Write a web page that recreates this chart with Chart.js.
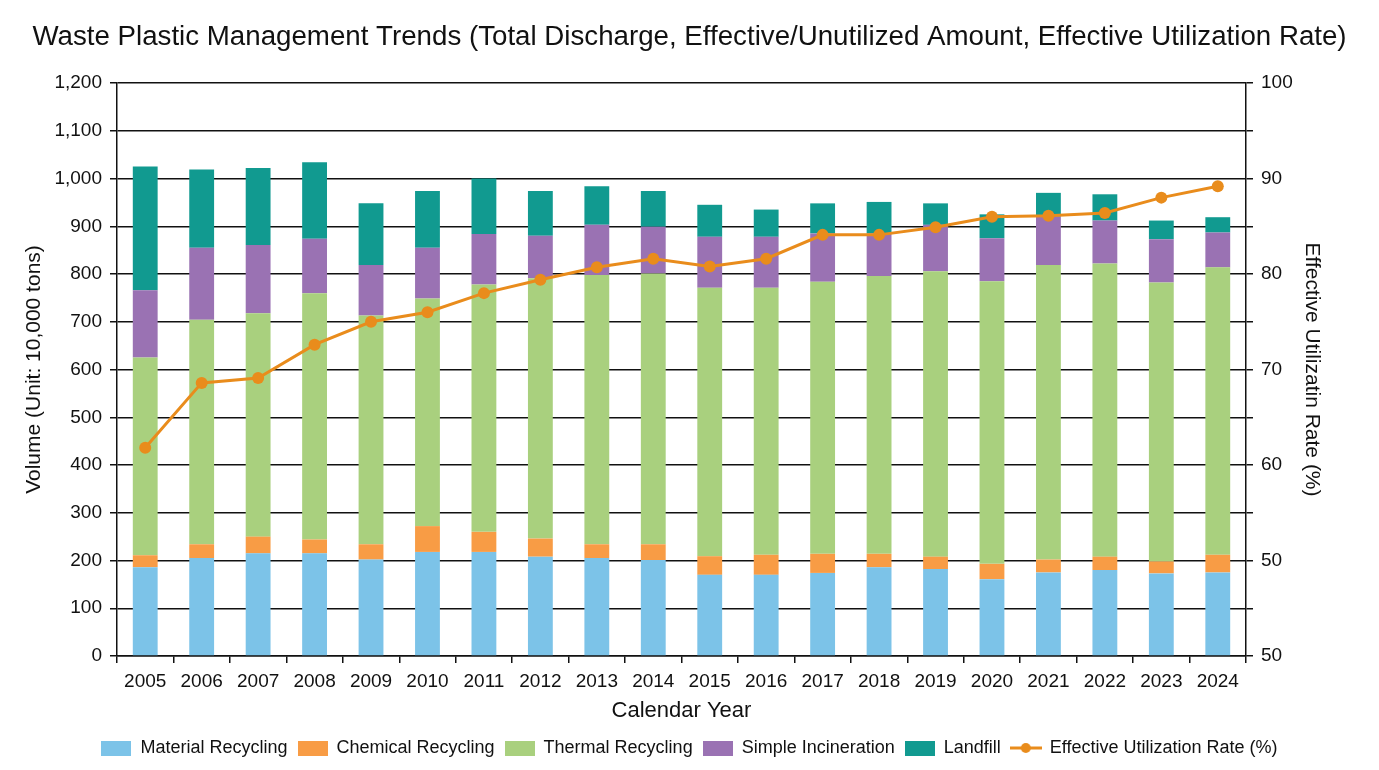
<!DOCTYPE html>
<html>
<head>
<meta charset="utf-8">
<script src="https://cdn.jsdelivr.net/npm/chart.js@4.4.1/dist/chart.umd.min.js"></script>
<style>
html,body{margin:0;padding:0;background:#fff;}
#wrap{width:1379px;height:770px;position:relative;}
</style>
</head>
<body>
<div id="wrap"><canvas id="c" width="1379" height="770"></canvas></div>
<script>
const years = ['2005','2006','2007','2008','2009','2010','2011','2012','2013','2014','2015','2016','2017','2018','2019','2020','2021','2022','2023','2024'];
const materialRecycling = [186,205,215,215,202,218,218,208,205,201,170,170,174,186,182,161,175,180,173,175];
const chemicalRecycling = [25,29,35,29,32,54,42,38,29,33,39,42,40,28,26,32,27,28,25,37];
const thermalRecycling = [414,470,468,516,479,477,518,545,564,567,562,559,570,582,598,592,617,614,584,602];
const simpleIncineration = [141,151,143,114,106,106,106,89,105,98,107,107,101,89,97,90,101,90,91,73];
const landfill = [259,164,161,160,129,119,116,94,81,75,67,57,63,66,45,50,50,55,39,32];
const utilizationRate = [61.8,68.6,69.1,72.6,75.0,76.0,78.0,79.4,80.7,81.6,80.8,81.6,84.1,84.1,84.9,86.0,86.1,86.4,88.0,89.2];
const leftTicks = [0,100,200,300,400,500,600,700,800,900,1000,1100,1200];
const rightTickLabels = {100:'100',90:'90',80:'80',70:'70',60:'60',50:'50',40:'50'};

const colors = {
  material:'#7cc3e8', chemical:'#f89c45', thermal:'#a9d07e', incin:'#9a72b3', landfill:'#119a90', line:'#e98c1c'
};
const FONT = "'Liberation Sans', Arial, sans-serif";

function rectIcon(color){
  const c=document.createElement('canvas'); c.width=30; c.height=15;
  const x=c.getContext('2d'); x.fillStyle=color; x.fillRect(0,0,30,15); return c;
}
function lineIcon(color){
  const c=document.createElement('canvas'); c.width=32; c.height=14;
  const x=c.getContext('2d'); x.strokeStyle=color; x.lineWidth=3;
  x.beginPath(); x.moveTo(0,7); x.lineTo(32,7); x.stroke();
  x.fillStyle=color; x.beginPath(); x.arc(16,7,5,0,Math.PI*2); x.fill(); return c;
}

const barCommon = {type:'bar', yAxisID:'y', stack:'s', barPercentage:0.44, categoryPercentage:1, borderWidth:0};
const data = {
  labels: years,
  datasets: [
    {...barCommon, label:'Material Recycling', data:materialRecycling, backgroundColor:colors.material, order:2, icon:rectIcon(colors.material)},
    {...barCommon, label:'Chemical Recycling', data:chemicalRecycling, backgroundColor:colors.chemical, order:2, icon:rectIcon(colors.chemical)},
    {...barCommon, label:'Thermal Recycling', data:thermalRecycling, backgroundColor:colors.thermal, order:2, icon:rectIcon(colors.thermal)},
    {...barCommon, label:'Simple Incineration', data:simpleIncineration, backgroundColor:colors.incin, order:2, icon:rectIcon(colors.incin)},
    {...barCommon, label:'Landfill', data:landfill, backgroundColor:colors.landfill, order:2, icon:rectIcon(colors.landfill)},
    {type:'line', label:'Effective Utilization Rate (%)', data:utilizationRate, yAxisID:'y1', borderColor:colors.line, backgroundColor:colors.line,
     borderWidth:3, pointRadius:6, pointHoverRadius:6, pointBackgroundColor:colors.line, pointBorderWidth:0, tension:0, order:1, icon:lineIcon(colors.line)}
  ]
};

new Chart(document.getElementById('c'), {
  type:'bar',
  data,
  options:{
    responsive:false, animation:false,
    layout:{padding:{left:0,right:0,top:0,bottom:3}},
    plugins:{
      title:{display:true, text:'Waste Plastic Management Trends (Total Discharge, Effective/Unutilized Amount, Effective Utilization Rate)',
        color:'#111', font:{family:FONT, size:27.7, weight:'normal', lineHeight:1.2}, padding:{top:21,bottom:28.8}},
      legend:{position:'bottom', labels:{
        usePointStyle:true, pointStyleWidth:30, boxHeight:15, padding:10, color:'#111',
        font:{family:FONT, size:18},
        generateLabels(chart){
          return chart.data.datasets.map((ds,i)=>({text:ds.label, pointStyle:ds.icon, fillStyle:ds.backgroundColor, strokeStyle:ds.backgroundColor, lineWidth:0, datasetIndex:i, hidden:false, fontColor:'#111'}));
        }
      }},
      tooltip:{enabled:false}
    },
    scales:{
      x:{
        stacked:true,
        grid:{display:true, drawOnChartArea:false, drawTicks:true, tickLength:7, color:'#111', lineWidth:1.5, offset:true},
        border:{display:true, color:'#111', width:1.5},
        ticks:{color:'#111', font:{family:FONT, size:19}, padding:7, maxRotation:0, autoSkip:false},
        title:{display:true, text:'Calendar Year', color:'#111', font:{family:FONT, size:22}, padding:{top:0,bottom:5}},
        afterFit(s){ s.height = 73; }
      },
      y:{
        stacked:true, position:'left', min:0, max:1200,
        afterBuildTicks(s){ s.ticks = leftTicks.map(v=>({value:v})); },
        grid:{color:'#111', lineWidth:1.5, tickLength:7, drawTicks:true},
        border:{display:true, color:'#111', width:1.5},
        ticks:{color:'#111', font:{family:FONT, size:19}, padding:8, callback:(v)=>v.toLocaleString('en-US')},
        title:{display:true, text:'Volume (Unit: 10,000 tons)', color:'#111', font:{family:FONT, size:21}, padding:{top:22,bottom:0}},
        afterFit(s){ s.width = 117; }
      },
      y1:{
        position:'right', min:40, max:100,
        afterBuildTicks(s){ const t=[]; for(let v=40; v<=100; v+=5) t.push({value:v}); s.ticks=t; },
        grid:{drawOnChartArea:false, color:'#111', lineWidth:1.5, tickLength:7, drawTicks:true},
        border:{display:true, color:'#111', width:1.5},
        ticks:{color:'#111', font:{family:FONT, size:19}, padding:8, callback:(v)=> rightTickLabels[v] !== undefined ? rightTickLabels[v] : ''},
        title:{display:true, text:'Effective Utilizatin Rate (%)', color:'#111', font:{family:FONT, size:21}, padding:{top:55,bottom:0}},
        afterFit(s){ s.width = 133; }
      }
    }
  }
});
</script>
</body>
</html>
